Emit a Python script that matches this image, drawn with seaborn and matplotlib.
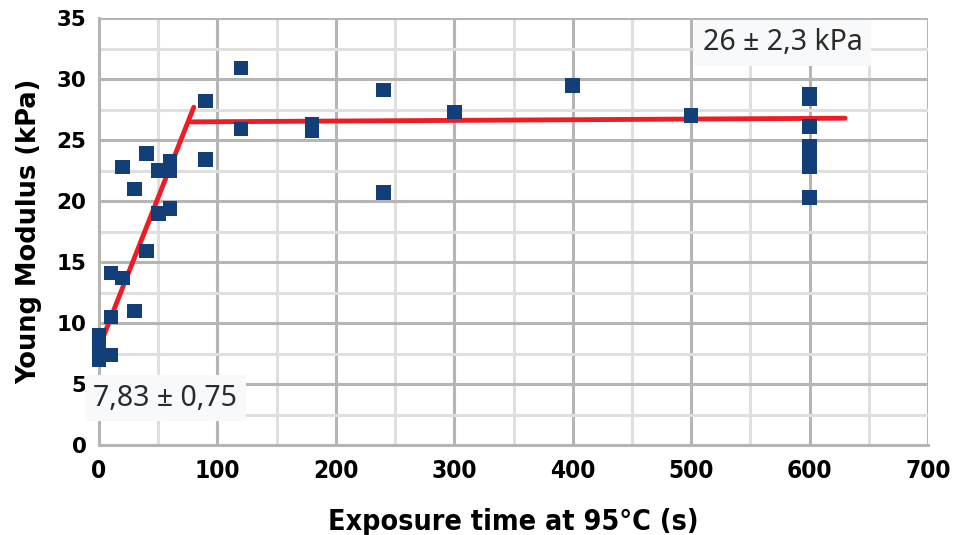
import matplotlib
matplotlib.use("Agg")
import matplotlib.pyplot as plt
import seaborn as sns
import pandas as pd
from matplotlib.ticker import MultipleLocator

# Data
time_s = [0, 0, 0, 0, 0, 10, 10, 10, 20, 20, 30, 30, 40, 40, 50, 50,
          60, 60, 60, 90, 90, 120, 120, 180, 180, 240, 240, 300, 400, 500,
          600, 600, 600, 600, 600, 600, 600, 600]
modulus = [9.0, 8.5, 8.0, 7.5, 7.0, 7.4, 10.5, 14.1, 13.7, 22.8, 11.0, 21.0,
           15.9, 23.9, 19.0, 22.5, 19.4, 22.5, 23.3, 28.2, 23.4, 30.9, 25.9,
           26.3, 25.8, 29.1, 20.7, 27.3, 29.5, 27.0, 28.8, 28.4, 26.1, 24.5,
           23.8, 23.2, 22.8, 20.3]
fit1_x = [0, 80]
fit1_y = [8.0, 27.7]
fit2_x = [77, 630]
fit2_y = [26.5, 26.8]
note_low = "7,83 ± 0,75"
note_high = "26 ± 2,3 kPa"
x_ticks = [0, 100, 200, 300, 400, 500, 600, 700]
y_ticks = [0, 5, 10, 15, 20, 25, 30, 35]

df = pd.DataFrame({"t": time_s, "E": modulus})

sns.set_style("white")
plt.rcParams['font.family'] = ['DejaVu Sans']
plt.rcParams['text.color'] = 'black'
plt.rcParams['axes.labelcolor'] = 'black'
plt.rcParams['xtick.color'] = 'black'
plt.rcParams['ytick.color'] = 'black'

fig = plt.figure(figsize=(9.54, 5.35), dpi=100)
ax = fig.add_axes([0.1038, 0.168, 0.869, 0.798])

ax.set_xlim(0, 700)
ax.set_ylim(0, 35)
ax.xaxis.set_major_locator(MultipleLocator(100))
ax.xaxis.set_minor_locator(MultipleLocator(50))
ax.yaxis.set_major_locator(MultipleLocator(5))
ax.yaxis.set_minor_locator(MultipleLocator(2.5))
ax.grid(which='major', color='#b5b5b5', lw=2.2, zorder=0)
ax.grid(which='minor', color='#dfdfdf', lw=2.2, zorder=0)
ax.set_axisbelow(True)
for s in ['top', 'right']:
    ax.spines[s].set_visible(False)
for s in ['left', 'bottom']:
    ax.spines[s].set_color('#b5b5b5')
    ax.spines[s].set_linewidth(2.2)
ax.tick_params(which='major', length=7, width=2, color='#b5b5b5', labelcolor='black')
ax.tick_params(axis='y', which='major', pad=2)
ax.tick_params(axis='x', which='major', pad=3)
ax.tick_params(which='minor', length=0)

sns.lineplot(x=fit1_x, y=fit1_y, ax=ax, color='#ee1c25', lw=3.5, sort=False, zorder=2)
sns.lineplot(x=fit2_x, y=fit2_y, ax=ax, color='#ee1c25', lw=3.5, sort=False, zorder=2)
sns.scatterplot(data=df, x="t", y="E", ax=ax, marker='s', s=110, color='#133f78',
                edgecolor='none', linewidth=0, zorder=3, clip_on=False)

ax.set_xticks(x_ticks)
ax.set_yticks(y_ticks)
ax.set_xticklabels([str(v) for v in x_ticks],
                   fontdict=dict(family=['DejaVu Sans'], stretch='condensed', weight='bold', size=17.5))
ax.set_yticklabels([str(v) for v in y_ticks], fontdict=dict(weight='bold', size=15.5))

ax.set_xlabel("Exposure time at 95°C (s)", family=['DejaVu Sans'], stretch='condensed',
              weight='bold', size=20.5, labelpad=18)
ax.set_ylabel("Young Modulus (kPa)", weight='bold', size=18.5, labelpad=10)

bbox = dict(boxstyle='square,pad=0.3', fc='#f8f9fa', ec='none')
ax.text(-5, 3.85, note_low, fontsize=20.5, color='#2a2a2a', ha='left', va='center',
        bbox=bbox, zorder=4, family=['Noto Sans', 'DejaVu Sans'])
ax.text(510, 33.0, note_high, fontsize=20.5, color='#2a2a2a', ha='left', va='center',
        bbox=bbox, zorder=4, family=['Noto Sans', 'DejaVu Sans'])

fig.savefig("out.png", dpi=100)
